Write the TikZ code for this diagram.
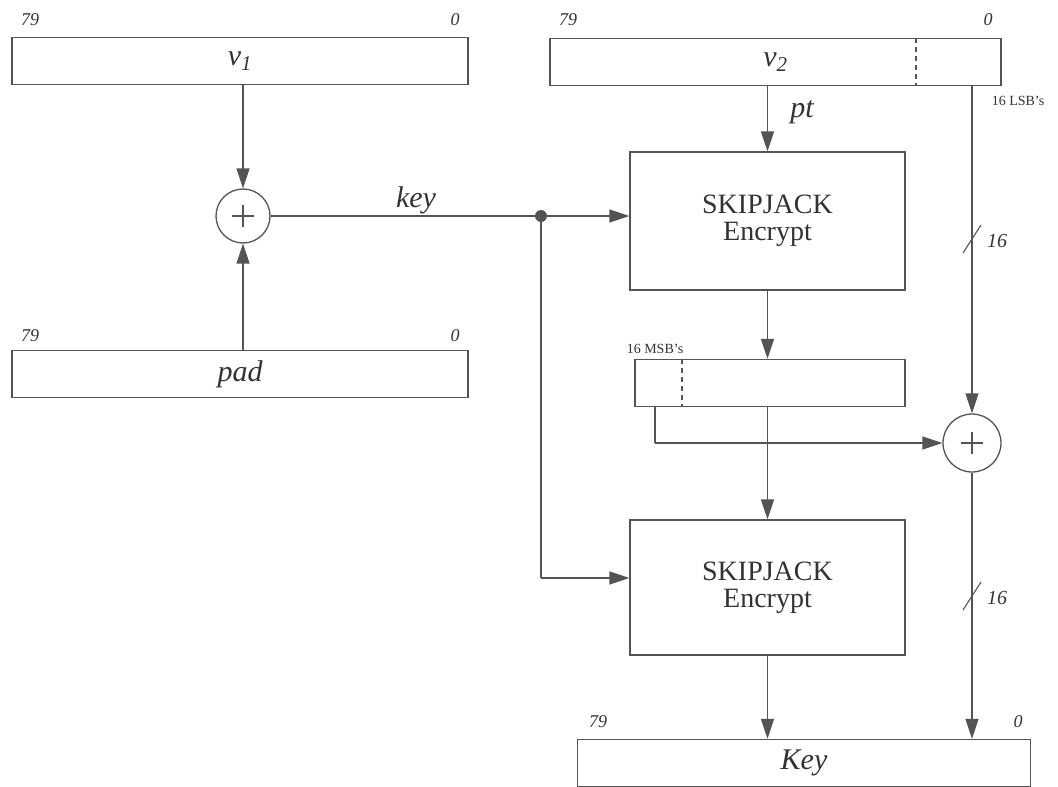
\documentclass[tikz,border=0pt]{standalone}
\usepackage{fontspec}
\setmainfont{Liberation Serif}
\usetikzlibrary{arrows.meta}
\definecolor{ln}{gray}{0.33}
\definecolor{tx}{gray}{0.2}
\begin{document}
\begin{tikzpicture}[x=1pt,y=-1pt,
  every node/.style={text=tx},
  reg/.style={draw=ln, line width=1.4pt, minimum height=47pt, inner sep=0pt, font=\fontsize{30}{34}\selectfont\itshape},
  sjbox/.style={draw=ln, line width=1.4pt, minimum width=275pt, inner sep=0pt, align=center, font=\fontsize{28}{27}\selectfont},
  bitlbl/.style={font=\fontsize{18}{20}\selectfont\itshape, inner sep=0pt},
  small/.style={font=\fontsize{14}{16}\selectfont, inner sep=0pt},
  xorc/.style={circle, draw=ln, line width=1.3pt, minimum size=#1, inner sep=0pt,
     path picture={\draw[ln, line width=1.2pt] (path picture bounding box.center) +(-11,0) -- +(11,0) +(0,-11) -- +(0,11);}},
  conn/.style={draw=ln, line width=1.4pt},
  arr/.style={conn, -{Triangle[length=20pt,width=13pt]}},
  lbl/.style={font=\fontsize{30}{34}\selectfont\itshape, inner sep=0pt},
  slash/.style={draw=ln, line width=1.1pt}
]
\useasboundingbox (0,0) rectangle (1058,787);
\fill[white] (0,0) rectangle (1058,787);

% registers
\node[reg, minimum width=456pt] (v1) at (240,61) {v\textsubscript{1}};
\node[reg, minimum width=451pt] (v2) at (775.5,62) {v\textsubscript{2}};
\node[reg, minimum width=456pt] (pad) at (240,374) {pad};
\node[reg, minimum width=270pt] (mid) at (770,383) {};
\node[reg, minimum width=453pt] (key) at (804,763) {Key};

% dashed dividers
\draw[ln, line width=1.2pt, dash pattern=on 5pt off 4pt] (916,38) -- (916,86);
\draw[ln, line width=1.2pt, dash pattern=on 5pt off 4pt] (682,359) -- (682,407);

% bit labels
\node[bitlbl] (v1a) at (30,20) {79};
\node[bitlbl] (v1b) at (455,20) {0};
\node[bitlbl] (v2a) at (568,20) {79};
\node[bitlbl] (v2b) at (988,20) {0};
\node[bitlbl] (pada) at (30,336) {79};
\node[bitlbl] (padb) at (455,336) {0};
\node[bitlbl] (keya) at (598,722) {79};
\node[bitlbl] (keyb) at (1018,722) {0};
\node[small] (msb) at (655,349) {16 MSB's};
\node[small] (lsb) at (1018,101) {16 LSB's};

% SKIPJACK boxes
\node[sjbox, minimum height=138pt] (sj1) at (767.5,221) {SKIPJACK\\Encrypt};
\node[sjbox, minimum height=135pt] (sj2) at (767.5,587.5) {SKIPJACK\\Encrypt};

% xors
\node[xorc=54pt] (x1) at (243,216) {};
\node[xorc=58pt] (x2) at (972,443) {};

% dot
\fill[ln] (541,216) circle (6pt);
\coordinate (dot) at (541,216);
\coordinate (k2) at (541,578);
\coordinate (m1) at (655,407);
\coordinate (m2) at (655,443);
\coordinate (l1) at (972,86);

% connectors
\draw[arr] (v1.south -| x1) -- (x1.north);
\draw[arr] (pad.north -| x1) -- (x1.south);
\draw[arr] (x1.east) -- (x1.east -| sj1.west);
\node[lbl] (keylbl) at (416,200) {key};
\draw[conn] (dot) -- (k2);
\draw[arr] (k2) -- (k2 -| sj2.west);
\draw[arr] (v2.south -| sj1) -- (sj1.north);
\node[lbl] (ptlbl) at (802,112) {pt};
\draw[arr] (sj1.south) -- (mid.north -| sj1);
\draw[arr] (mid.south -| sj1) -- (sj2.north);
\draw[conn] (m1) -- (m2);
\draw[arr] (m2) -- (x2.west);
\draw[arr] (l1) -- (x2.north);
\draw[arr] (sj2.south) -- (key.north -| sj2);
\draw[arr] (x2.south) -- (key.north -| x2);

% width slashes
\draw[slash] (963,253) -- (981,225);
\node[bitlbl, font=\fontsize{20}{22}\selectfont\itshape] (w1) at (997,241) {16};
\draw[slash] (963,610) -- (981,582);
\node[bitlbl, font=\fontsize{20}{22}\selectfont\itshape] (w2) at (997,598) {16};
\end{tikzpicture}
\end{document}
